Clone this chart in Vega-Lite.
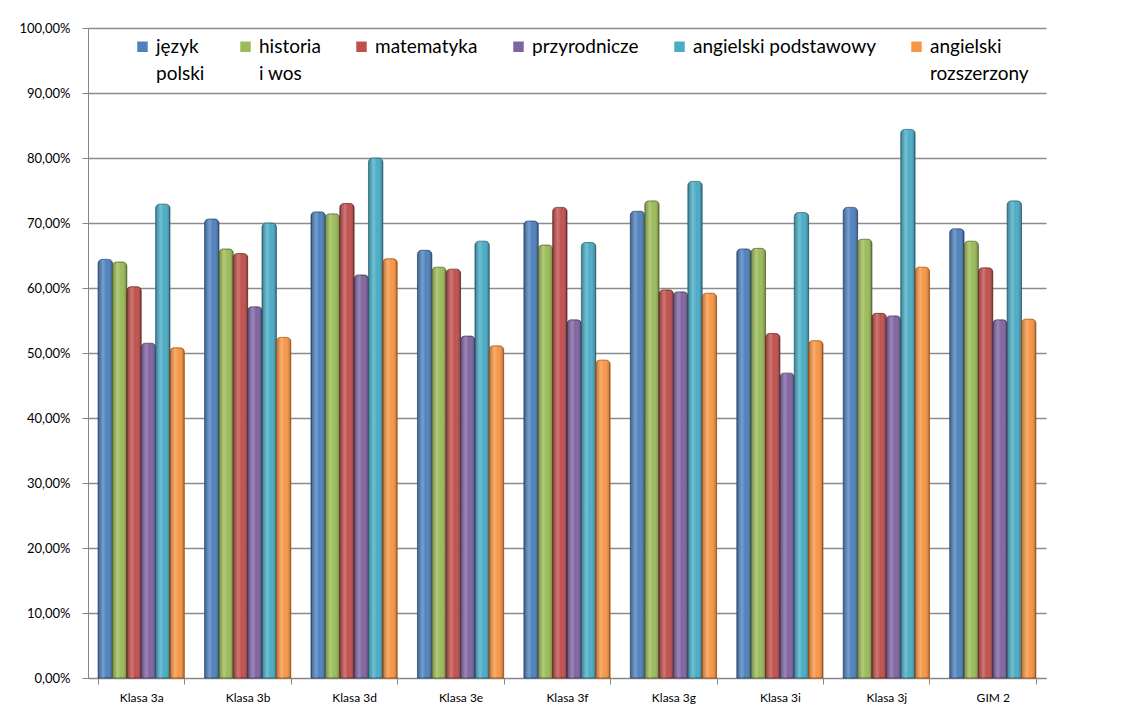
{
  "$schema": "https://vega.github.io/schema/vega-lite/v6.json",
  "width": 958,
  "height": 650,
  "autosize": {"type": "none"},
  "padding": {"left": 88, "top": 28, "right": 79, "bottom": 37},
  "background": "white",
  "data": {
    "values": [
      {"klasa": "Klasa 3a", "przedmiot": "język polski", "wynik": 0.644},
      {"klasa": "Klasa 3a", "przedmiot": "historia i wos", "wynik": 0.640},
      {"klasa": "Klasa 3a", "przedmiot": "matematyka", "wynik": 0.602},
      {"klasa": "Klasa 3a", "przedmiot": "przyrodnicze", "wynik": 0.515},
      {"klasa": "Klasa 3a", "przedmiot": "angielski podstawowy", "wynik": 0.729},
      {"klasa": "Klasa 3a", "przedmiot": "angielski rozszerzony", "wynik": 0.508},
      {"klasa": "Klasa 3b", "przedmiot": "język polski", "wynik": 0.706},
      {"klasa": "Klasa 3b", "przedmiot": "historia i wos", "wynik": 0.660},
      {"klasa": "Klasa 3b", "przedmiot": "matematyka", "wynik": 0.653},
      {"klasa": "Klasa 3b", "przedmiot": "przyrodnicze", "wynik": 0.571},
      {"klasa": "Klasa 3b", "przedmiot": "angielski podstawowy", "wynik": 0.700},
      {"klasa": "Klasa 3b", "przedmiot": "angielski rozszerzony", "wynik": 0.524},
      {"klasa": "Klasa 3d", "przedmiot": "język polski", "wynik": 0.717},
      {"klasa": "Klasa 3d", "przedmiot": "historia i wos", "wynik": 0.714},
      {"klasa": "Klasa 3d", "przedmiot": "matematyka", "wynik": 0.730},
      {"klasa": "Klasa 3d", "przedmiot": "przyrodnicze", "wynik": 0.620},
      {"klasa": "Klasa 3d", "przedmiot": "angielski podstawowy", "wynik": 0.800},
      {"klasa": "Klasa 3d", "przedmiot": "angielski rozszerzony", "wynik": 0.645},
      {"klasa": "Klasa 3e", "przedmiot": "język polski", "wynik": 0.658},
      {"klasa": "Klasa 3e", "przedmiot": "historia i wos", "wynik": 0.632},
      {"klasa": "Klasa 3e", "przedmiot": "matematyka", "wynik": 0.629},
      {"klasa": "Klasa 3e", "przedmiot": "przyrodnicze", "wynik": 0.526},
      {"klasa": "Klasa 3e", "przedmiot": "angielski podstawowy", "wynik": 0.672},
      {"klasa": "Klasa 3e", "przedmiot": "angielski rozszerzony", "wynik": 0.511},
      {"klasa": "Klasa 3f", "przedmiot": "język polski", "wynik": 0.703},
      {"klasa": "Klasa 3f", "przedmiot": "historia i wos", "wynik": 0.666},
      {"klasa": "Klasa 3f", "przedmiot": "matematyka", "wynik": 0.724},
      {"klasa": "Klasa 3f", "przedmiot": "przyrodnicze", "wynik": 0.551},
      {"klasa": "Klasa 3f", "przedmiot": "angielski podstawowy", "wynik": 0.670},
      {"klasa": "Klasa 3f", "przedmiot": "angielski rozszerzony", "wynik": 0.489},
      {"klasa": "Klasa 3g", "przedmiot": "język polski", "wynik": 0.718},
      {"klasa": "Klasa 3g", "przedmiot": "historia i wos", "wynik": 0.734},
      {"klasa": "Klasa 3g", "przedmiot": "matematyka", "wynik": 0.597},
      {"klasa": "Klasa 3g", "przedmiot": "przyrodnicze", "wynik": 0.594},
      {"klasa": "Klasa 3g", "przedmiot": "angielski podstawowy", "wynik": 0.764},
      {"klasa": "Klasa 3g", "przedmiot": "angielski rozszerzony", "wynik": 0.592},
      {"klasa": "Klasa 3i", "przedmiot": "język polski", "wynik": 0.660},
      {"klasa": "Klasa 3i", "przedmiot": "historia i wos", "wynik": 0.661},
      {"klasa": "Klasa 3i", "przedmiot": "matematyka", "wynik": 0.530},
      {"klasa": "Klasa 3i", "przedmiot": "przyrodnicze", "wynik": 0.469},
      {"klasa": "Klasa 3i", "przedmiot": "angielski podstawowy", "wynik": 0.716},
      {"klasa": "Klasa 3i", "przedmiot": "angielski rozszerzony", "wynik": 0.519},
      {"klasa": "Klasa 3j", "przedmiot": "język polski", "wynik": 0.724},
      {"klasa": "Klasa 3j", "przedmiot": "historia i wos", "wynik": 0.675},
      {"klasa": "Klasa 3j", "przedmiot": "matematyka", "wynik": 0.561},
      {"klasa": "Klasa 3j", "przedmiot": "przyrodnicze", "wynik": 0.557},
      {"klasa": "Klasa 3j", "przedmiot": "angielski podstawowy", "wynik": 0.844},
      {"klasa": "Klasa 3j", "przedmiot": "angielski rozszerzony", "wynik": 0.632},
      {"klasa": "GIM 2", "przedmiot": "język polski", "wynik": 0.691},
      {"klasa": "GIM 2", "przedmiot": "historia i wos", "wynik": 0.672},
      {"klasa": "GIM 2", "przedmiot": "matematyka", "wynik": 0.631},
      {"klasa": "GIM 2", "przedmiot": "przyrodnicze", "wynik": 0.551},
      {"klasa": "GIM 2", "przedmiot": "angielski podstawowy", "wynik": 0.734},
      {"klasa": "GIM 2", "przedmiot": "angielski rozszerzony", "wynik": 0.552}
    ]
  },
  "encoding": {
    "x": {
      "field": "klasa",
      "type": "nominal",
      "sort": ["Klasa 3a", "Klasa 3b", "Klasa 3d", "Klasa 3e", "Klasa 3f", "Klasa 3g", "Klasa 3i", "Klasa 3j", "GIM 2"],
      "scale": {"paddingInner": 0.19, "paddingOuter": 0.095},
      "axis": {
        "title": null,
        "labelAngle": 0,
        "labelFont": "Lato",
        "labelFontSize": 12,
        "labelColor": "#000000",
        "labelPadding": 8,
        "tickBand": "extent",
        "tickSize": 6,
        "tickColor": "#868686",
        "domainColor": "#868686",
        "grid": false
      }
    },
    "xOffset": {
      "field": "przedmiot",
      "sort": ["język polski", "historia i wos", "matematyka", "przyrodnicze", "angielski podstawowy", "angielski rozszerzony"]
    },
    "y": {
      "field": "wynik",
      "type": "quantitative",
      "scale": {"domain": [0, 1], "nice": false},
      "axis": {
        "title": null,
        "values": [0, 0.1, 0.2, 0.3, 0.4, 0.5, 0.6, 0.7, 0.8, 0.9, 1],
        "labelExpr": "replace(format(datum.value, '.2%'), '.', ',')",
        "labelFont": "Lato",
        "labelFontSize": 13,
        "labelColor": "#000000",
        "labelPadding": 12,
        "tickColor": "#868686",
        "tickSize": 6,
        "domainColor": "#868686",
        "gridColor": "#8c8c8c",
        "gridWidth": 1.3
      }
    }
  },
  "layer": [
    {
      "mark": {"type": "bar", "cornerRadiusTopLeft": 4, "cornerRadiusTopRight": 4, "strokeWidth": 0.8},
      "encoding": {
        "color": {
          "field": "przedmiot",
          "type": "nominal",
          "sort": ["język polski", "historia i wos", "matematyka", "przyrodnicze", "angielski podstawowy", "angielski rozszerzony"],
          "scale": {"range": ["#4F81BD", "#9BBB59", "#C0504D", "#8064A2", "#4BACC6", "#F79646"]},
          "legend": {
            "title": null,
            "orient": "none",
            "legendX": 45,
            "legendY": 9,
            "direction": "horizontal",
            "columns": 6,
            "columnPadding": 31,
            "symbolType": "square",
            "symbolSize": 110,
            "symbolStrokeWidth": 0,
            "labelFont": "Lato",
            "labelFontSize": 19,
            "labelColor": "#000000",
            "labelLimit": 300,
            "labelBaseline": "alphabetic",
            "labelOffset": 4,
            "labelExpr": "datum.label == 'język polski' ? ['język', 'polski'] : datum.label == 'historia i wos' ? ['historia', 'i wos'] : datum.label == 'angielski rozszerzony' ? ['angielski', 'rozszerzony'] : [datum.label, ' ']",
            "encode": {"labels": {"update": {"dy": {"value": 6}, "lineHeight": {"value": 27}}}}
          }
        },
        "stroke": {
          "field": "przedmiot",
          "type": "nominal",
          "sort": ["język polski", "historia i wos", "matematyka", "przyrodnicze", "angielski podstawowy", "angielski rozszerzony"],
          "scale": {"range": ["#2c4d75", "#5f7530", "#772c2a", "#4d3b62", "#276a7c", "#b65708"]},
          "legend": null
        }
      }
    },
    {
      "mark": {
        "type": "bar",
        "cornerRadiusTopLeft": 4,
        "cornerRadiusTopRight": 4,
        "fill": {
          "gradient": "linear",
          "x1": 0, "y1": 0, "x2": 1, "y2": 0,
          "stops": [
            {"offset": 0, "color": "rgba(0,0,0,0.25)"},
            {"offset": 0.35, "color": "rgba(255,255,255,0.22)"},
            {"offset": 0.6, "color": "rgba(255,255,255,0.0)"},
            {"offset": 1, "color": "rgba(0,0,0,0.3)"}
          ]
        }
      },
      "encoding": {}
    }
  ],
  "config": {"view": {"stroke": null}}
}
